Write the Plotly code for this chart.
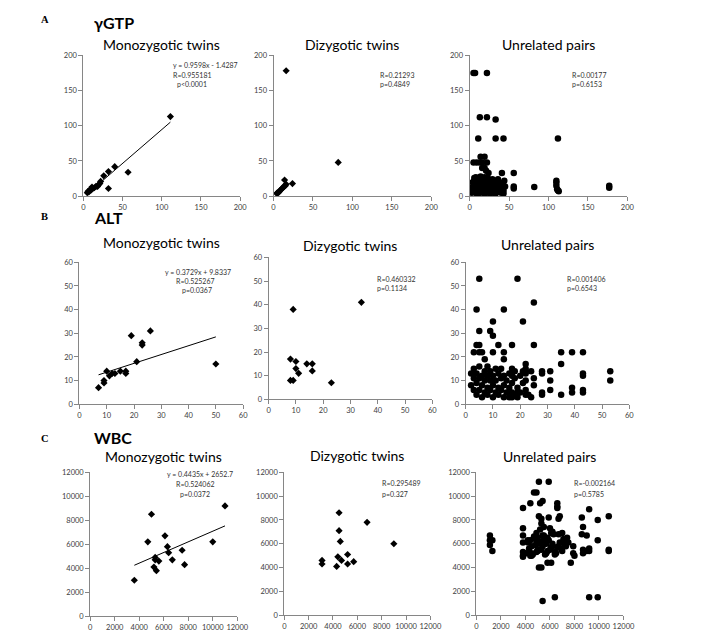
import plotly.graph_objects as go

W, H = 708, 637

# ---- gamma-GTP ----
ggtp_mz_x = [111, 40, 32, 57, 26, 22, 21, 19, 18, 32, 16, 14, 12, 11, 10, 9, 8, 7, 6, 5]
ggtp_mz_y = [113, 42, 35, 34, 29, 21, 18, 16, 14, 11, 14, 12, 11, 13, 9, 10, 8, 6, 7, 5]

ggtp_dz_x = [16, 82, 14, 24, 4, 5, 6, 7, 8, 10, 11, 12, 13, 15, 16]
ggtp_dz_y = [178, 48, 23, 18, 4, 5, 5, 6, 8, 10, 11, 12, 14, 15, 17]

ggtp_un_x = [5, 7, 22, 13, 22, 33, 11, 33, 43, 112, 5, 9, 13, 16, 22, 14, 19, 16, 19, 21, 24,
             41, 56, 56, 56, 82, 110, 110, 110, 111, 112, 113, 177, 177,
             3, 4, 5, 5, 6, 6, 7, 7, 8, 8, 9, 9, 10, 10, 11, 11, 12, 12, 13, 13, 14, 14, 15, 15,
             16, 16, 17, 17, 18, 18, 19, 19, 20, 20, 21, 21, 22, 22, 23, 23, 24, 24, 25, 25, 26,
             27, 27, 28, 29, 30, 30, 31, 32, 33, 34, 35, 36, 37, 38, 40, 41, 42, 43, 44, 45,
             4, 6, 8, 10, 12, 14, 3, 19, 23, 26, 29, 33, 36, 39, 43]
ggtp_un_y = [175, 175, 175, 112, 112, 109, 82, 82, 82, 82, 48, 48, 48, 48, 48, 56, 56, 40, 40, 36, 33,
             33, 33, 14, 11, 13, 22, 19, 15, 10, 8, 7, 15, 12,
             5, 8, 12, 18, 22, 26, 6, 14, 10, 20, 4, 16, 8, 24, 12, 18, 6, 14, 10, 22, 5, 16, 9, 20,
             12, 26, 7, 15, 10, 22, 4, 13, 8, 18, 12, 24, 6, 15, 10, 20, 5, 13, 9, 17, 22,
             7, 12, 15, 10, 5, 20, 13, 8, 17, 11, 6, 14, 20, 9, 5, 12, 18, 8, 22, 14,
             20, 15, 27, 3, 20, 28, 12, 27, 26, 4, 24, 4, 24, 15, 4]

# ---- ALT ----
alt_mz_x = [7, 9, 9, 10, 11, 12, 13, 15, 17, 17, 19, 21, 23, 23, 26, 50]
alt_mz_y = [7, 10, 9, 14, 12, 13, 13, 14, 14, 13, 29, 18, 26, 25, 31, 17]

alt_dz_x = [9, 34, 8, 10, 10, 11, 8, 9, 14, 16, 16, 23]
alt_dz_y = [38, 41, 17, 16, 13, 11, 8, 8, 15, 15, 12, 7]

alt_un_x = [5, 19, 4, 14, 25, 10, 21, 5, 9, 10, 4, 5, 12, 17, 25, 3, 5, 6, 10, 14, 14, 7, 35, 39, 43,
            35, 22, 22, 22, 17, 17, 28, 28, 31, 31, 25, 25, 23, 19, 19, 17, 16, 22, 35, 39, 39, 43,
            43, 43, 43, 53, 53, 24, 28, 28, 24, 31,
            2, 2, 3, 3, 3, 4, 4, 4, 5, 5, 5, 6, 6, 6, 7, 7, 7, 8, 8, 8, 8, 9, 9, 9, 10, 10, 10,
            11, 11, 11, 12, 12, 12, 13, 13, 13, 14, 14, 14, 15, 15, 16, 16, 17, 17, 18, 18, 18, 19,
            20, 20, 21, 21, 22, 22]
alt_un_y = [53, 53, 40, 40, 43, 35, 35, 31, 31, 29, 25, 25, 25, 25, 25, 22, 22, 22, 22, 22, 19, 19, 22, 22, 22,
            17, 17, 15, 13, 15, 12, 14, 13, 14, 10, 11, 8, 4, 5, 3, 3, 3, 4, 4, 7, 5, 13,
            12, 6, 5, 14, 10, 14, 5, 4, 3, 6,
            13, 8, 6, 11, 15, 4, 9, 13, 6, 11, 16, 3, 8, 12, 5, 10, 14, 4, 7, 12, 16, 6, 10, 14, 3, 8, 12,
            5, 10, 15, 4, 7, 13, 6, 11, 15, 3, 8, 12, 5, 10, 7, 13, 5, 9, 4, 11, 14, 7,
            5, 12, 9, 14, 6, 10]

# ---- WBC ----
wbc_mz_x = [3600, 5000, 4700, 6100, 6300, 6400, 5300, 5300, 5600, 5200, 5400, 6700, 7500, 7700, 10000, 11000]
wbc_mz_y = [3000, 8500, 6200, 6700, 5800, 5300, 4900, 4700, 4600, 4100, 3800, 4700, 5500, 4300, 6200, 9200]

wbc_dz_x = [4500, 4500, 4600, 6800, 9000, 3100, 3100, 4400, 4300, 4700, 5200, 5200, 5700]
wbc_dz_y = [8600, 7100, 6200, 7800, 6000, 4600, 4300, 4900, 4100, 4600, 5100, 4300, 4500]

wbc_un_x = [5100, 5900, 4700, 4900, 4400, 5200, 5400, 3800, 6600, 6600, 6600, 9200, 9900, 10800,
            8600, 8700, 8600, 9000, 9900, 8700, 8700, 9000, 9200, 9200, 10800, 10800, 7900, 8000,
            7700, 7900, 7400, 7500, 6100, 5800, 5100, 5300, 5400, 6400, 9200, 9900,
            1100, 1100, 1300, 1100, 1300, 3800, 3800, 3800, 3800, 3800, 3800, 4200, 4400, 4500, 4500,
            4900, 5000, 5100, 5300, 5300, 5500, 5900, 6000, 6700, 6800, 6700, 7000,
            4100, 4300, 4600, 4800, 5000, 5200, 5400, 5600, 5800, 6000, 6200, 6400, 6600, 6800, 7000,
            7200, 4200, 4500, 4700, 4900, 5100, 5300, 5500, 5700, 5900, 6100, 6300, 6500, 6900, 7100,
            7300, 4400, 4800, 5200, 5500, 5800, 6100, 6400, 6700, 7100, 5000, 5400, 5700, 6200, 6600]
wbc_un_y = [11200, 11200, 10300, 10300, 9400, 9400, 9600, 9000, 9400, 9100, 9000, 8900, 8000, 8300,
            8200, 7400, 6800, 6700, 6300, 5500, 5200, 5400, 5600, 5400, 5500, 5400, 5200, 5000,
            4400, 5800, 6500, 6100, 4400, 4400, 4000, 4000, 1200, 1500, 1500, 1500,
            6700, 6300, 6300, 5900, 5400, 7300, 6700, 6100, 5300, 5000, 4900, 6300, 6300, 5200, 5000,
            6900, 6500, 8300, 8100, 7700, 7400, 8200, 7300, 8100, 8300, 6800, 6900,
            5200, 5600, 5100, 5900, 5400, 6200, 5800, 5100, 6500, 5500, 6000, 5300, 5700, 6100, 5400,
            5900, 6100, 5800, 6600, 5300, 6000, 5500, 6700, 5200, 6300, 5700, 6800, 5200, 5600, 6400,
            5800, 5000, 6400, 7200, 6300, 5400, 6900, 5100, 5800, 6200, 5500, 6700, 6000, 7000, 5700]

# regression lines (MZ only)
fit_ggtp = (0.9598, -1.4287)
fit_alt = (0.3729, 9.8337)
fit_wbc = (0.4435, 2652.7)

tick_ggtp = [0, 50, 100, 150, 200]
tick_alt = [0, 10, 20, 30, 40, 50, 60]
tick_wbc = [0, 2000, 4000, 6000, 8000, 10000, 12000]

# pixel boxes of the nine plot areas: (left, right, top, bottom)
boxes = [
    (83, 243, 52, 195), (277, 438, 52, 195), (477, 638, 52, 195),
    (79, 246, 262, 406), (272, 439, 257, 401), (473, 640, 262, 406),
    (90, 240, 475, 621), (288, 437, 475, 620), (484, 634, 475, 620),
]

panels = [
    (ggtp_mz_x, ggtp_mz_y, "diamond", tick_ggtp, fit_ggtp),
    (ggtp_dz_x, ggtp_dz_y, "diamond", tick_ggtp, None),
    (ggtp_un_x, ggtp_un_y, "circle", tick_ggtp, None),
    (alt_mz_x, alt_mz_y, "diamond", tick_alt, fit_alt),
    (alt_dz_x, alt_dz_y, "diamond", tick_alt, None),
    (alt_un_x, alt_un_y, "circle", tick_alt, None),
    (wbc_mz_x, wbc_mz_y, "diamond", tick_wbc, fit_wbc),
    (wbc_dz_x, wbc_dz_y, "diamond", tick_wbc, None),
    (wbc_un_x, wbc_un_y, "circle", tick_wbc, None),
]

FONT = "Lato"
tickfont = dict(family=FONT, size=7.5, color="#404040")

fig = go.Figure()
layout = {}
for i, ((xs, ys, sym, ticks, fit), (l, r, t, b)) in enumerate(zip(panels, boxes), start=1):
    xa = "x" if i == 1 else f"x{i}"
    ya = "y" if i == 1 else f"y{i}"
    fig.add_trace(go.Scatter(
        x=xs, y=ys, mode="markers", xaxis=xa, yaxis=ya, showlegend=False,
        marker=dict(symbol=sym, color="black", size=5.5 if sym == "diamond" else 6.5,
                    line=dict(width=0)),
    ))
    if fit:
        x0, x1 = min(xs), max(xs)
        fig.add_trace(go.Scatter(
            x=[x0, x1], y=[fit[0] * x0 + fit[1], fit[0] * x1 + fit[1]],
            mode="lines", xaxis=xa, yaxis=ya, showlegend=False,
            line=dict(color="black", width=1),
        ))
    axis = dict(range=[0, ticks[-1]], tickvals=ticks, tickformat="d", tickangle=0,
                showgrid=False, zeroline=False, showline=True, linecolor="#868686",
                linewidth=1, ticks="outside", ticklen=4, tickcolor="#868686",
                tickfont=tickfont)
    layout["xaxis" if i == 1 else f"xaxis{i}"] = dict(
        axis, domain=[l / W, r / W], anchor=ya)
    layout["yaxis" if i == 1 else f"yaxis{i}"] = dict(
        axis, domain=[1 - b / H, 1 - t / H], anchor=xa)

annots = []


def text(s, x, y, size, xanchor="center", family=FONT, color="black"):
    annots.append(dict(text=s, x=x / W, y=1 - y / H, xref="paper", yref="paper",
                       xanchor=xanchor, yanchor="middle", showarrow=False,
                       font=dict(family=family, size=size, color=color)))


# panel letters and row titles
for letter, ttl, ly, ty in [("A", "γGTP", 16, 19), ("B", "ALT", 216, 217), ("C", "WBC", 441, 440)]:
    text(f"<b>{letter}</b>", 38, ly, 10.5, "left", "Liberation Serif")
    text(f"<b>{ttl}</b>", 92, ty, 16, "left")

# subplot titles
sub_titles = ["Monozygotic twins", "Dizygotic twins", "Unrelated pairs"]
title_y = [41, 41, 41, 242, 245, 244, 459, 458, 459]
for i, (l, r, t, b) in enumerate(boxes):
    text(sub_titles[i % 3], (l + r) / 2, title_y[i], 14)

# statistics text
stat_col = "#333333"
centered = [
    ("y = 0.9598x - 1.4287", 208, 62), ("R=0.955181", 194, 72), ("p<0.0001", 194, 81),
    ("y = 0.3729x + 9.8337", 200, 272), ("R=0.525267", 197, 281), ("p=0.0367", 199, 290),
    ("y = 0.4435x + 2652.7", 202, 477), ("R=0.524062", 197, 487), ("p=0.0372", 197, 497),
]
for s, x, y in centered:
    text(s, x, y, 7, "center", color=stat_col)

lefted = [
    ("R=0.21293", 384, 72), ("p=0.4849", 384, 81),
    ("R=0.00177", 579, 72), ("p=0.6153", 579, 81),
    ("R=0.460332", 381, 279), ("p=0.1134", 381, 288),
    ("R=0.001406", 574, 279), ("p=0.6543", 574, 288),
    ("R=0.295489", 386, 486), ("p=0.327", 386, 497),
    ("R=-0.002164", 582, 486), ("p=0.5785", 582, 497),
]
for s, x, y in lefted:
    text(s, x, y, 7, "left", color=stat_col)

fig.update_layout(
    width=W, height=H, margin=dict(l=0, r=0, t=0, b=0),
    paper_bgcolor="white", plot_bgcolor="white",
    font=dict(family=FONT), annotations=annots, **layout,
)

# the page's default body margin would shift the whole figure by 8 px
fig.write_html("out.html", config={"displayModeBar": False},
               post_script="document.body.style.margin='0';")
